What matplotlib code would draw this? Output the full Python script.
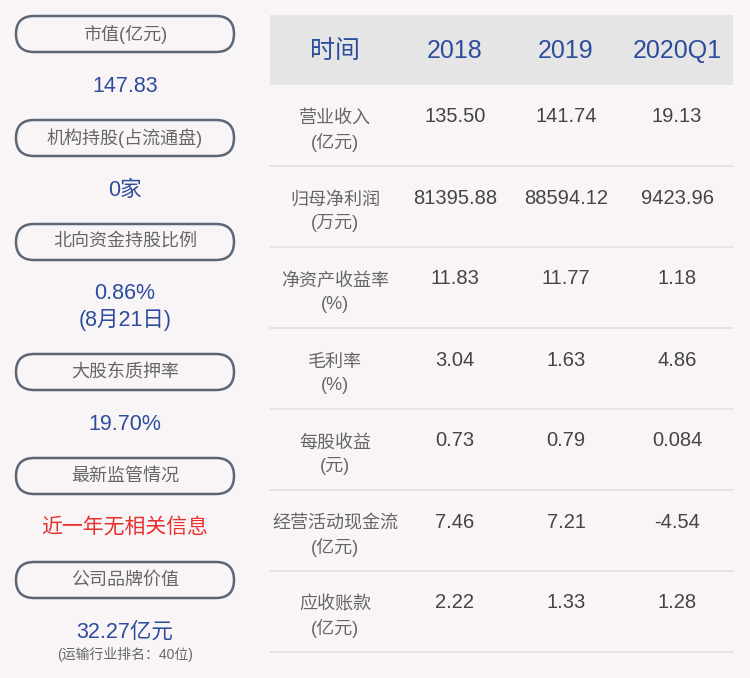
import matplotlib.pyplot as plt
from matplotlib.patches import FancyBboxPatch, Rectangle

plt.rcParams['font.family'] = ['Liberation Sans', 'Noto Sans CJK SC', 'DejaVu Sans']

# left panel
pill_labels = ["市值(亿元)", "机构持股(占流通盘)", "北向资金持股比例", "大股东质押率", "最新监管情况", "公司品牌价值"]
pill_values = ["147.83", "0家", "0.86%\n(8月21日)", "19.70%", "近一年无相关信息", "32.27亿元"]
brand_note = "(运输行业排名：40位)"

# table
columns = ["时间", "2018", "2019", "2020Q1"]
row_names = ["营业收入\n(亿元)", "归母净利润\n(万元)", "净资产收益率\n(%)", "毛利率\n(%)",
             "每股收益\n(元)", "经营活动现金流\n(亿元)", "应收账款\n(亿元)"]
v2018 = ["135.50", "81395.88", "11.83", "3.04", "0.73", "7.46", "2.22"]
v2019 = ["141.74", "88594.12", "11.77", "1.63", "0.79", "7.21", "1.33"]
v2020q1 = ["19.13", "9423.96", "1.18", "4.86", "0.084", "-4.54", "1.28"]

bg = "#f9f5f7"
blue = "#2d4d9c"
grey_txt = "#666666"
dark_txt = "#444444"
pill_edge = "#5c6675"
red = "#e8302f"

fig = plt.figure(figsize=(7.5, 6.78), dpi=100, facecolor=bg)
ax = fig.add_axes([0, 0, 1, 1])
ax.set_xlim(0, 750)
ax.set_ylim(678, 0)
ax.axis('off')
ax.set_facecolor(bg)

pill_y = [34, 138, 242, 372, 476, 580]
val_y = [86, 190, 307, 424, 527, 632]
for i, lab in enumerate(pill_labels):
    y = pill_y[i]
    ax.add_patch(FancyBboxPatch((16, y - 18), 218, 36,
                                boxstyle="round,pad=0,rounding_size=18",
                                fc=bg, ec=pill_edge, lw=1.8))
    ax.text(125, y, lab, ha='center', va='center', fontsize=13, color=grey_txt)
    if i == 4:
        ax.text(125, val_y[i], pill_values[i], ha='center', va='center', fontsize=15, color=red)
    else:
        ax.text(125, val_y[i], pill_values[i], ha='center', va='center', fontsize=15.5,
                color=blue, linespacing=1.3)
ax.text(125, 654, brand_note, ha='center', va='center', fontsize=10, color=grey_txt)

# table header
ax.add_patch(Rectangle((270, 15), 463, 70, fc="#e5e5e5", ec='none'))
col_x = [335, 455, 566, 677]
for cx, c in zip(col_x, columns):
    ax.text(cx, 51, c, ha='center', va='center', fontsize=18, color=blue)

row_h = 81
for i, name in enumerate(row_names):
    top = 85 + i * row_h
    ax.text(col_x[0], top + 46, name, ha='center', va='center', fontsize=13,
            color=grey_txt, linespacing=1.4)
    for cx, v in zip(col_x[1:], [v2018[i], v2019[i], v2020q1[i]]):
        ax.text(cx, top + 32, v, ha='center', va='center', fontsize=14.5, color=dark_txt)
    ax.plot([270, 733], [top + row_h, top + row_h], color="#e3e0e2", lw=1.2)

fig.savefig("out.png", dpi=100, facecolor=bg)
